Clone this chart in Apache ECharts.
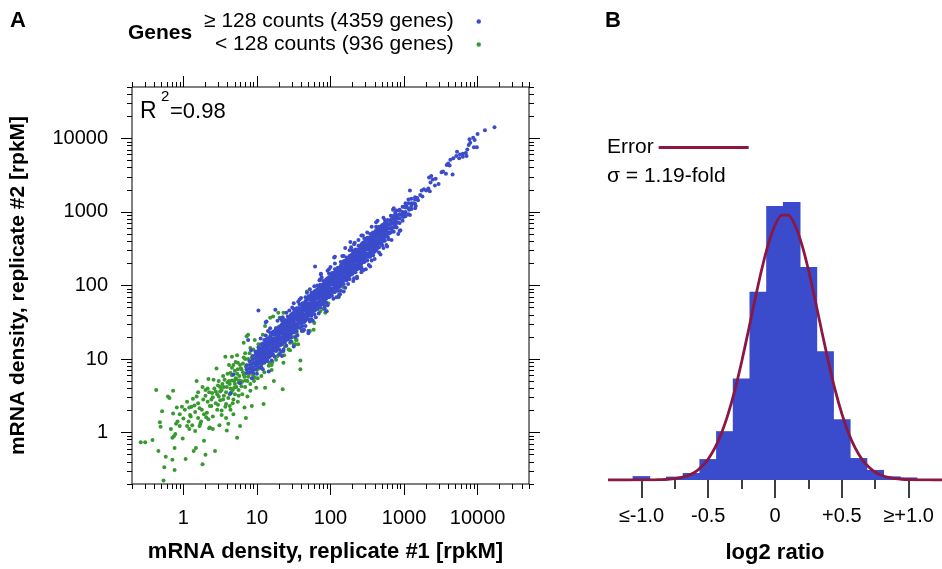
<!DOCTYPE html>
<html><head><meta charset="utf-8">
<script src="https://cdn.jsdelivr.net/npm/echarts@6/dist/echarts.min.js"></script>
<style>html,body{margin:0;padding:0;background:#fff}#c{width:942px;height:569px}</style>
</head><body><div id="c"></div>
<script>
const FONT = '"Liberation Sans", Arial, Helvetica, sans-serif';

// ---------- Panel A: tick labels (values are log10 of rpkM) ----------
const scatterTickLog10 = [0, 1, 2, 3, 4];
const scatterTickLabels = ['1', '10', '100', '1000', '10000'];
const highCountName = '\u2265 128 counts (4359 genes)';
const lowCountName = '< 128 counts (936 genes)';

// Dense core of high-count genes: [log10 rep1, log10 rep2 ...] per column
const highCountColumns = [
[0.86,0.81,0.86,0.91],
[0.90,0.82,0.87,0.92,0.97],
[0.94,0.84,0.89,0.94,0.99,1.04],
[0.98,0.86,0.91,0.96,1.01,1.06,1.10],
[1.02,0.89,0.94,0.98,1.03,1.07,1.12,1.16],
[1.06,0.89,0.94,0.98,1.03,1.07,1.11,1.15,1.20],
[1.10,0.95,1.00,1.04,1.08,1.12,1.17,1.21,1.26],
[1.14,0.97,1.02,1.06,1.11,1.15,1.19,1.23,1.28],
[1.18,1.04,1.09,1.13,1.18,1.22,1.26,1.31,1.36],
[1.22,1.06,1.11,1.15,1.21,1.25,1.28,1.34,1.37],
[1.26,1.11,1.16,1.20,1.24,1.28,1.33,1.37,1.42],
[1.30,1.13,1.18,1.22,1.27,1.31,1.35,1.39,1.44],
[1.34,1.20,1.25,1.29,1.34,1.38,1.42,1.47,1.52],
[1.38,1.22,1.27,1.31,1.37,1.41,1.44,1.50,1.53],
[1.42,1.27,1.32,1.36,1.40,1.44,1.49,1.53,1.58],
[1.46,1.29,1.34,1.38,1.43,1.47,1.51,1.55,1.60],
[1.50,1.36,1.41,1.45,1.50,1.54,1.58,1.63,1.68],
[1.54,1.38,1.43,1.47,1.53,1.57,1.60,1.66,1.69],
[1.58,1.43,1.48,1.52,1.56,1.60,1.65,1.69,1.74],
[1.62,1.45,1.50,1.54,1.59,1.63,1.67,1.71,1.76],
[1.66,1.52,1.57,1.61,1.66,1.70,1.74,1.79,1.84],
[1.70,1.54,1.59,1.63,1.69,1.73,1.76,1.82,1.85],
[1.74,1.59,1.64,1.68,1.72,1.76,1.81,1.85,1.90],
[1.78,1.61,1.66,1.70,1.75,1.79,1.83,1.87,1.92],
[1.82,1.68,1.73,1.77,1.82,1.86,1.90,1.95,2.00],
[1.86,1.70,1.75,1.79,1.85,1.89,1.92,1.98,2.01],
[1.90,1.75,1.80,1.84,1.88,1.92,1.97,2.01,2.06],
[1.94,1.77,1.82,1.86,1.91,1.95,1.99,2.03,2.08],
[1.98,1.84,1.89,1.93,1.98,2.02,2.06,2.11,2.16],
[2.02,1.86,1.91,1.95,2.01,2.05,2.08,2.14,2.17],
[2.06,1.91,1.96,2.00,2.04,2.08,2.13,2.17,2.22],
[2.10,1.93,1.98,2.02,2.07,2.11,2.15,2.19,2.24],
[2.14,2.00,2.05,2.09,2.14,2.18,2.22,2.27,2.32],
[2.18,2.02,2.07,2.11,2.17,2.21,2.24,2.30,2.33],
[2.22,2.07,2.12,2.16,2.20,2.24,2.29,2.33,2.38],
[2.26,2.09,2.14,2.18,2.23,2.27,2.31,2.35,2.40],
[2.30,2.16,2.21,2.25,2.30,2.34,2.38,2.43,2.48],
[2.34,2.18,2.23,2.27,2.33,2.37,2.40,2.46,2.49],
[2.38,2.23,2.28,2.32,2.36,2.40,2.45,2.49,2.54],
[2.42,2.25,2.30,2.34,2.39,2.43,2.47,2.51,2.56],
[2.46,2.32,2.37,2.41,2.46,2.50,2.54,2.59,2.64],
[2.50,2.34,2.39,2.43,2.49,2.53,2.56,2.62,2.65],
[2.54,2.39,2.44,2.48,2.52,2.56,2.61,2.65,2.70],
[2.58,2.41,2.46,2.50,2.55,2.59,2.63,2.67,2.72],
[2.62,2.48,2.53,2.57,2.62,2.66,2.70,2.75,2.80],
[2.66,2.52,2.57,2.62,2.66,2.71,2.75,2.80],
[2.70,2.55,2.60,2.65,2.69,2.74,2.78,2.82],
[2.74,2.61,2.66,2.71,2.76,2.80,2.85,2.89],
[2.78,2.66,2.72,2.78,2.83,2.89],
[2.82,2.72,2.78,2.84,2.89,2.95],
[2.86,2.73,2.79,2.85,2.90,2.95],
[2.90,2.79,2.85,2.91,2.96,3.02],
[2.94,2.85,2.91,2.97,3.02],
[2.98,2.88,2.94,3.00,3.07],
[3.02,2.94,3.00,3.06,3.12],
[3.06,2.97,3.05,3.12],
[3.10,3.04,3.12,3.18],
[3.15,3.11,3.20]
];

// Interleaved columns of the dense core
const highCountColumnsMid = [
[1.00,0.92,0.97,1.03,1.08],
[1.04,0.94,0.99,1.04,1.09,1.14],
[1.08,0.95,1.00,1.05,1.11,1.16,1.21],
[1.12,1.00,1.05,1.10,1.16,1.21,1.26],
[1.16,1.02,1.07,1.12,1.18,1.23,1.28],
[1.20,1.07,1.12,1.17,1.23,1.28,1.33],
[1.24,1.12,1.17,1.22,1.28,1.33,1.38],
[1.28,1.14,1.19,1.24,1.30,1.35,1.40],
[1.32,1.19,1.24,1.29,1.35,1.40,1.45],
[1.36,1.24,1.29,1.34,1.40,1.45,1.50],
[1.40,1.26,1.31,1.36,1.42,1.47,1.52],
[1.44,1.31,1.36,1.41,1.47,1.52,1.57],
[1.48,1.36,1.41,1.46,1.52,1.57,1.62],
[1.52,1.38,1.43,1.48,1.54,1.59,1.64],
[1.56,1.43,1.48,1.53,1.59,1.64,1.69],
[1.60,1.48,1.53,1.58,1.64,1.69,1.74],
[1.64,1.50,1.55,1.60,1.66,1.71,1.76],
[1.68,1.55,1.60,1.65,1.71,1.76,1.81],
[1.72,1.60,1.65,1.70,1.76,1.81,1.86],
[1.76,1.62,1.67,1.72,1.78,1.83,1.88],
[1.80,1.67,1.72,1.77,1.83,1.88,1.93],
[1.84,1.72,1.77,1.82,1.88,1.93,1.98],
[1.88,1.74,1.79,1.84,1.90,1.95,2.00],
[1.92,1.79,1.84,1.89,1.95,2.00,2.05],
[1.96,1.84,1.89,1.94,2.00,2.05,2.10],
[2.00,1.86,1.91,1.96,2.02,2.07,2.12],
[2.04,1.91,1.96,2.01,2.07,2.12,2.17],
[2.08,1.96,2.01,2.06,2.12,2.17,2.22],
[2.12,1.98,2.03,2.08,2.14,2.19,2.24],
[2.16,2.03,2.08,2.13,2.19,2.24,2.29],
[2.20,2.08,2.13,2.18,2.24,2.29,2.34],
[2.24,2.10,2.15,2.20,2.26,2.31,2.36],
[2.28,2.15,2.20,2.25,2.31,2.36,2.41],
[2.32,2.20,2.25,2.30,2.36,2.41,2.46],
[2.36,2.22,2.27,2.32,2.38,2.43,2.48],
[2.40,2.27,2.32,2.37,2.43,2.48,2.53],
[2.44,2.32,2.37,2.42,2.48,2.53,2.58],
[2.48,2.34,2.39,2.44,2.50,2.55,2.60],
[2.52,2.39,2.44,2.49,2.55,2.60,2.65],
[2.56,2.44,2.49,2.54,2.60,2.65,2.70],
[2.60,2.46,2.51,2.56,2.62,2.67,2.72],
[2.64,2.51,2.56,2.61,2.67,2.72,2.77],
[2.68,2.58,2.63,2.69,2.74,2.79],
[2.72,2.61,2.67,2.72,2.77,2.83],
[2.76,2.68,2.74,2.79,2.85],
[2.80,2.71,2.77,2.83,2.88],
[2.84,2.79,2.85,2.91],
[2.88,2.82,2.88,2.94]
];

// Sparser high-count genes: [log10 rep1, log10 rep2]
const highCountSparse = [
[4.23,4.15],[4.10,4.11],[4.00,4.06],[3.94,4.01],[3.89,3.99],[3.90,3.94],[3.96,3.98],[3.99,3.88],
[3.95,3.88],[3.88,3.91],[3.86,3.85],[3.84,3.80],[3.80,3.79],[3.76,3.78],[3.72,3.82],[3.71,3.76],
[3.75,3.73],[3.80,3.75],[3.85,3.76],[3.67,3.73],[3.63,3.71],[3.60,3.66],[3.58,3.64],[3.62,3.63],
[3.66,3.51],[3.53,3.55],[3.51,3.54],[3.57,3.52],[3.37,3.49],[3.34,3.47],[3.39,3.44],[3.36,3.40],
[3.43,3.45],[3.47,3.38],[3.42,3.36],[3.33,3.32],[3.27,3.31],[3.24,3.29],[3.30,3.29],[3.35,3.28],
[3.08,3.29],[3.22,3.23],[3.25,3.21],[3.18,3.19],[3.15,3.17],[3.13,3.12],[3.10,3.08],[3.16,3.08],
[3.19,3.16],[3.15,3.05],[3.07,3.03],[3.03,3.08],[3.00,3.07],[3.01,2.98],[2.97,2.96],[2.99,2.93],
[2.94,3.03],[2.92,2.92],[2.85,3.03],[2.88,2.89],[2.91,2.86],[2.95,2.75],[2.83,2.84],[2.80,2.78],
[2.84,2.74],[2.76,2.71],[2.79,2.63],[2.74,2.80],[2.72,2.64],[2.77,2.53],[2.70,2.55],[3.08,2.96],
[3.06,3.17],
[2.27,2.59],[2.06,2.39],[1.79,2.26],[2.54,2.26],[1.02,1.66],[1.12,1.50],[1.50,1.76],[1.87,2.15],
[1.70,1.38],[1.94,1.65],[2.11,1.85],[2.42,2.22],[0.64,0.53],[0.77,0.67],[0.68,0.79],[0.93,0.74],
[0.88,1.26],[1.30,1.06],[1.35,1.57],[1.72,1.51],[2.33,2.58],[2.20,2.51],[2.05,2.38],[1.87,2.16],
[2.45,2.21],[2.36,2.10],[2.31,2.06],[2.72,2.51],[2.83,2.62],[2.94,2.74],[2.88,2.99],[2.74,2.78],
[2.57,2.71],[2.42,2.68],[1.85,2.07],[1.13,1.51],[1.25,1.67],[1.36,1.11],[1.34,1.04],[1.70,1.35],
[1.61,1.38],[2.13,1.88],[2.18,1.92],[1.96,1.73],[1.50,1.17],[0.95,0.81],[1.16,0.83],
[1.15,1.38],[1.20,0.98],[1.28,1.52],[1.36,1.13],[1.44,1.66],[1.52,1.30],[1.60,1.83],[1.64,1.40],
[1.72,1.95],[1.80,1.57],[1.88,2.11],[1.92,1.69],[2.00,2.25],[2.08,1.84],[2.16,2.40],[2.20,1.97],
[2.28,2.52],[2.36,2.12],[2.44,2.68],[2.48,2.22],[2.56,2.80],[2.60,2.36],[2.64,2.88],[2.68,2.42],
[1.12,1.32],[1.40,1.18],[1.56,1.78],[1.76,1.52],[1.96,2.20],[2.12,1.88],[2.32,2.56],[2.52,2.28],
[1.05,1.28],[1.08,0.86],[1.18,1.42],[1.24,1.03],[1.32,1.55],[1.33,1.10],[1.40,1.63],[1.46,1.24],
[1.48,1.70],[1.55,1.32],[1.58,1.81],[1.66,1.45],[1.68,1.90],[1.74,1.54],[1.78,1.99],[1.84,1.62],
[1.86,2.08],[1.92,1.72],[1.98,2.22],[2.04,1.82],[2.06,2.30],[2.14,1.93],[2.18,2.40],[2.24,2.02],
[2.26,2.48],[2.32,2.10],[2.38,2.62],[2.42,2.18],[2.50,2.72],[2.56,2.34],[2.62,2.86],[2.66,2.45],
[2.72,2.92],[2.76,2.55],[2.86,3.05],[2.92,2.70],[0.92,1.12],[1.00,0.80]
];

// Low-count genes: [log10 rep1, log10 rep2]
const lowCountGenes = [
[-0.58,-0.13],[-0.52,-0.13],[-0.42,-0.10],[-0.37,0.58],[-0.34,-0.25],[-0.32,0.14],[-0.31,0.08],[-0.29,0.29],
[-0.27,-0.65],[-0.26,-0.47],[-0.24,-0.33],[-0.21,0.49],[-0.19,0.47],[-0.17,0.05],[-0.15,-0.07],[-0.15,-0.37],
[-0.14,0.57],[-0.14,0.26],[-0.13,-0.05],[-0.12,-0.21],[-0.12,-0.51],[-0.11,-0.02],[-0.09,0.34],[-0.08,0.15],
[-0.05,0.09],[-0.02,0.35],[-0.01,-0.08],[0.00,0.19],[0.02,0.31],[0.03,-0.36],[0.05,0.09],[0.07,0.15],
[0.08,0.34],[0.09,0.24],[0.11,0.35],[0.12,0.10],[0.14,-0.25],[0.15,0.37],[0.16,0.02],[0.17,-0.21],
[0.18,0.70],[0.18,0.49],[0.20,0.20],[0.20,0.40],[0.22,0.09],[0.23,0.12],[0.25,0.31],[0.26,-0.43],
[0.27,0.45],[0.28,-0.11],[0.30,0.58],[0.30,-0.30],[0.31,0.21],[0.32,0.27],[0.33,0.60],[0.34,0.73],
[0.35,0.06],[0.36,0.07],[0.36,0.36],[0.38,0.45],[0.39,0.54],[0.40,0.22],[0.41,0.72],[0.43,-0.25],
[0.44,0.56],[0.45,0.87],[0.46,0.31],[0.48,0.49],[0.49,0.10],[0.50,0.62],[0.52,0.24],[0.54,0.77],
[0.54,0.45],[0.57,1.03],[0.58,0.39],[0.59,0.03],[0.60,0.68],[0.61,0.12],[0.62,0.92],[0.63,0.52],
[0.64,0.81],[0.64,0.31],[0.66,1.03],[0.66,0.71],[0.67,0.58],[0.68,0.45],[0.69,0.61],[0.70,0.84],
[0.72,0.73],[0.73,-0.07],[0.73,1.05],[0.75,0.68],[0.75,0.50],[0.76,0.77],[0.77,0.09],[0.78,0.87],
[0.79,0.63],[0.81,0.94],[0.82,0.79],[0.83,0.34],[0.84,1.00],[0.84,0.71],[0.85,0.20],[0.86,0.86],
[0.87,0.49],[0.88,1.33],[0.88,0.76],[0.90,1.08],[0.91,0.57],[0.92,0.92],[0.93,0.36],[0.94,0.82],
[0.95,1.13],[0.96,0.70],[0.97,1.26],[0.99,0.61],[1.00,0.97],[1.01,0.74],[1.02,1.20],[1.03,0.87],
[1.04,1.08],[1.06,0.77],[1.08,1.33],[1.09,0.39],[1.10,1.00],[1.11,0.61],[1.13,1.15],[1.16,0.91],
[1.17,0.95],[1.18,1.26],[1.20,0.85],[1.22,1.05],[1.23,0.70],[1.26,0.99],[1.27,1.13],[1.29,1.24],
[1.31,1.08],[1.35,0.59],[1.36,0.95],[1.38,1.17],[1.41,1.29],[1.43,1.13],[1.45,1.12],[1.47,1.24],
[1.50,1.20],[1.53,1.26],[1.54,1.35],[1.56,1.20],[1.59,0.98],[1.59,0.86],[1.63,1.38],
[0.62,0.70],[0.66,0.78],[0.70,0.66],[0.73,0.80],[0.76,0.71],[0.79,0.86],[0.83,0.76],[0.86,0.92],
[0.89,0.82],[0.55,0.62],[0.58,0.55],[0.68,0.92],[0.74,0.95],[0.80,0.69],[0.92,0.86],[0.95,0.78],
[0.50,0.56],[0.47,0.64],[0.64,0.60],[0.71,0.74],
[1.68,1.92],[2.17,1.98],[2.11,1.84],[1.95,1.65],[1.93,1.63],[1.78,1.49],[1.72,1.38],[1.52,1.20],
[1.31,1.56],[1.22,1.58],[1.18,1.56],[1.36,1.63],[1.29,1.63],[1.11,1.45],[0.86,1.31],[0.82,1.22],
[0.84,1.08],[0.91,1.15],[1.04,0.88],[1.20,0.92],[1.45,1.22],[1.40,1.47],[1.54,1.26],[1.68,1.63],
[1.86,1.65],[1.97,1.76],[1.77,1.40],
[0.30,0.50],[0.33,0.42],[0.35,0.55],[0.38,0.36],[0.40,0.48],[0.42,0.60],[0.44,0.40],[0.46,0.52],
[0.48,0.70],[0.50,0.44],[0.52,0.58],[0.53,0.66],[0.55,0.50],[0.56,0.72],[0.57,0.35],[0.59,0.62],
[0.60,0.80],[0.61,0.47],[0.63,0.66],[0.65,0.55],[0.66,0.88],[0.67,0.40],[0.69,0.70],[0.70,0.52],
[0.71,0.96],[0.72,0.62],[0.74,0.86],[0.75,0.58],[0.77,0.92],[0.78,0.70],[0.80,0.52],[0.81,0.82],
[0.82,1.02],[0.84,0.62],[0.85,0.90],[0.87,0.70],[0.88,1.00],[0.90,0.80],[0.91,0.66],[0.93,1.02],
[0.94,0.88],[0.96,0.95],[0.97,0.75],[0.99,1.05],[1.00,0.85],[1.02,0.95],[1.04,1.12],[1.06,0.92],
[1.08,1.05],[1.10,0.82],[1.12,1.22],[1.14,1.00],[1.16,1.10],[1.19,1.35],[1.21,0.96],[1.24,1.18],
[1.26,1.42],[1.28,1.04],[1.32,1.28],[1.34,1.46],[1.37,1.05],[1.40,1.35],[1.44,1.52],[1.48,1.30],
[1.55,1.62],[1.60,1.42],[1.66,1.55],[1.74,1.62],[1.82,1.74],[1.90,1.68],
[0.10,0.22],[0.13,0.46],[0.16,0.28],[0.20,0.55],[0.22,0.33],[0.24,0.15],[0.26,0.62],[0.28,0.25],
[-0.05,0.25],[0.05,0.42],[0.08,0.05],[-0.10,0.12],[0.34,0.18],[0.40,0.05],[0.47,0.38],[0.52,0.30],
[0.58,0.20],[0.63,0.36],[0.68,0.25],[0.74,0.42]
];

// ---------- Panel B: histogram of log2 ratios ----------
const histBinCenters = [-1, -0.875, -0.75, -0.625, -0.5, -0.375, -0.25, -0.125, 0, 0.125, 0.25, 0.375, 0.5, 0.625, 0.75, 0.875, 1];
const histCounts = [15, 2, 13, 27, 81, 189, 393, 729, 1061, 1076, 825, 498, 235, 85, 39, 14, 10];
const histTickValues = [-1, -0.5, 0, 0.5, 1];
const histTickLabels = ['\u2264-1.0', '-0.5', '0', '+0.5', '\u2265+1.0'];
const histMinorTicks = [-0.75, -0.25, 0.25, 0.75];
const errorCurveX = [-1.25,-1.15,-1.05,-0.95,-0.9,-0.85,-0.8,-0.75,-0.7,-0.65,-0.6,-0.55,-0.5,-0.45,-0.4,-0.35,-0.3,-0.25,-0.2,-0.15,-0.1,-0.05,0,0.05,0.1,0.15,0.2,0.25,0.3,0.35,0.4,0.45,0.5,0.55,0.6,0.65,0.7,0.75,0.8,0.85,0.9,0.95,1.0,1.05,1.1,1.2,1.25];
const errorCurveY = [0,0,0.1,0.3,0.7,1.5,2.9,5.4,9.8,17.5,30,51,81,124,182,257,349,457,576,698,814,913,986,1025,1025,986,913,814,698,576,457,349,257,182,124,81,51,30,17.5,9.8,5.4,2.9,1.5,0.7,0.3,0,0];

// ---------- build ----------
const highCountGenes = [];
highCountColumns.concat(highCountColumnsMid).forEach(col => { for (let i = 1; i < col.length; i++) highCountGenes.push([col[0], col[i]]); });
highCountSparse.forEach(p => highCountGenes.push(p));

const LMIN = Math.log10(0.2), LMAX = Math.log10(50000);
const minorLog = [];
for (let d = -1; d <= 4; d++) for (let m = 2; m <= 9; m++) {
  const v = m * Math.pow(10, d);
  if (v >= 0.2 - 1e-9 && v <= 50000 + 1e-9) minorLog.push(Math.log10(v));
}

const BLUE = '#3a4bcb', GREEN = '#37992f', RED = '#8c1742';

function axisA(position, ticks, len, withLabels, extra) {
  return Object.assign({
    type: 'value', gridIndex: 0, position: position, min: LMIN, max: LMAX,
    axisLine: { show: false, onZero: false },
    axisTick: { show: true, inside: false, customValues: ticks, length: len, lineStyle: { color: '#000', width: 1 } },
    axisLabel: withLabels ? {
      show: true, customValues: scatterTickLog10,
      formatter: v => scatterTickLabels[Math.round(v)],
      color: '#000', fontSize: 20, fontFamily: FONT, margin: 24
    } : { show: false },
    splitLine: { show: false }
  }, extra || {});
}
function axisB(ticks, len, withLabels, extra) {
  return Object.assign({
    type: 'value', gridIndex: 1, position: 'bottom', min: -1.25, max: 1.25,
    axisLine: { show: false, onZero: false },
    axisTick: { show: true, inside: false, customValues: ticks, length: len, lineStyle: { color: '#000', width: 1.5 } },
    axisLabel: withLabels ? {
      show: true, customValues: histTickValues,
      formatter: v => histTickLabels[histTickValues.findIndex(t => Math.abs(t - v) < 1e-6)],
      color: '#000', fontSize: 20, fontFamily: FONT, margin: 26
    } : { show: false },
    splitLine: { show: false }
  }, extra || {});
}
const titleStyle = { fontWeight: 'bold', fontSize: 22, color: '#000', fontFamily: FONT };

const option = {
  animation: false,
  textStyle: { fontFamily: FONT, color: '#000' },
  grid: [
    { left: 132, top: 87, width: 397, height: 397, show: true, borderColor: '#000', borderWidth: 1, backgroundColor: 'transparent' },
    { left: 608, top: 170, width: 337.5, height: 311 }
  ],
  xAxis: [
    axisA('bottom', scatterTickLog10, 11, true, { name: 'mRNA density, replicate #1 [rpkM]', nameLocation: 'middle', nameGap: 57, nameTextStyle: Object.assign({}, titleStyle, { padding: [0, 10, 0, 0] }) }),
    axisA('bottom', minorLog, 5, false),
    axisA('top', scatterTickLog10, 11, false),
    axisA('top', minorLog, 5, false),
    axisB(histTickValues, 18, true, { name: 'log2 ratio', nameLocation: 'middle', nameGap: 62, nameTextStyle: titleStyle }),
    axisB(histMinorTicks, 9, false)
  ],
  yAxis: [
    axisA('left', scatterTickLog10, 11, true, { name: 'mRNA density, replicate #2 [rpkM]', nameLocation: 'middle', nameGap: 103, nameRotate: 90, nameTextStyle: Object.assign({}, titleStyle, { fontSize: 21 }) }),
    axisA('left', minorLog, 5, false),
    axisA('right', scatterTickLog10, 11, false),
    axisA('right', minorLog, 5, false),
    { type: 'value', gridIndex: 1, min: 0, max: 1200, show: false, splitLine: { show: false } }
  ],
  legend: [
    {
      data: [highCountName, lowCountName], orient: 'vertical', align: 'right',
      right: 456, top: 6, itemGap: 2, itemWidth: 40, itemHeight: 4.5, icon: 'circle',
      symbolKeepAspect: true, selectedMode: false,
      textStyle: { fontSize: 21, lineHeight: 21, color: '#000', fontFamily: FONT }
    },
    {
      data: ['Error'], orient: 'vertical', align: 'right', left: 602, top: 132,
      itemWidth: 90, itemHeight: 3, icon: 'rect', selectedMode: false,
      textStyle: { fontSize: 21, lineHeight: 21, color: '#000', fontFamily: FONT }
    }
  ],
  series: [
    { name: highCountName, type: 'scatter', xAxisIndex: 0, yAxisIndex: 0, data: highCountGenes, symbolSize: 4, itemStyle: { color: BLUE, opacity: 1 }, z: 3 },
    { name: lowCountName, type: 'scatter', xAxisIndex: 0, yAxisIndex: 0, data: lowCountGenes, symbolSize: 4, itemStyle: { color: GREEN, opacity: 1 }, z: 2 },
    { name: 'Histogram', type: 'bar', xAxisIndex: 4, yAxisIndex: 4, data: histBinCenters.map((c, i) => [c, histCounts[i]]), barWidth: 17.6, itemStyle: { color: BLUE }, z: 2 },
    { name: 'Error', type: 'line', xAxisIndex: 4, yAxisIndex: 4, data: errorCurveX.map((x, i) => [x, errorCurveY[i]]), showSymbol: false, smooth: 0.2, lineStyle: { color: RED, width: 2.8 }, itemStyle: { color: RED }, z: 5 }
  ],
  graphic: [
    { type: 'text', style: { x: 10, y: 21, text: 'A', font: 'bold 22px ' + FONT, fill: '#000', textVerticalAlign: 'middle' } },
    { type: 'text', style: { x: 605, y: 21, text: 'B', font: 'bold 22px ' + FONT, fill: '#000', textVerticalAlign: 'middle' } },
    { type: 'text', style: { x: 128, y: 33, text: 'Genes', font: 'bold 21px ' + FONT, fill: '#000', textVerticalAlign: 'middle' } },
    { type: 'text', style: { x: 140, y: 112, text: 'R', font: '23px ' + FONT, fill: '#000', textVerticalAlign: 'middle' } },
    { type: 'text', style: { x: 161, y: 97, text: '2', font: '15px ' + FONT, fill: '#000', textVerticalAlign: 'middle' } },
    { type: 'text', style: { x: 170, y: 112, text: '=0.98', font: '22px ' + FONT, fill: '#000', textVerticalAlign: 'middle' } },
    { type: 'text', style: { x: 607, y: 176, text: '\u03c3 = 1.19-fold', font: '21px ' + FONT, fill: '#000', textVerticalAlign: 'middle' } }
  ]
};

const chart = echarts.init(document.getElementById('c'), null, { renderer: 'canvas' });
chart.setOption(option);
</script>
</body></html>
